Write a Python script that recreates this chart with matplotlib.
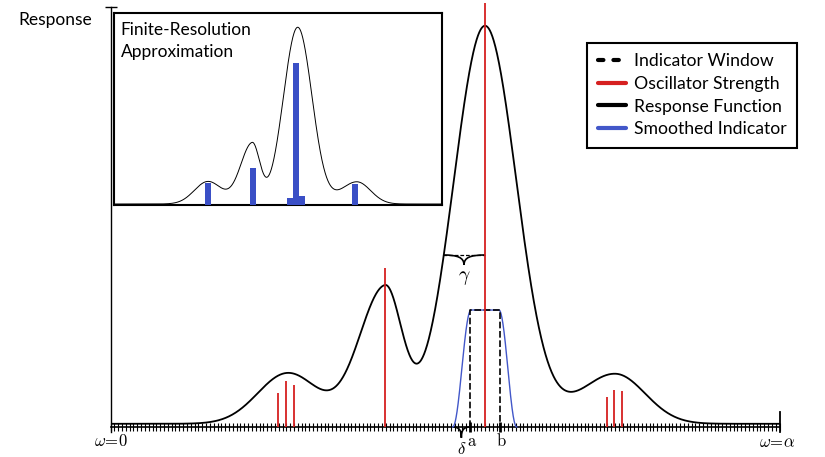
import numpy as np
import matplotlib
matplotlib.use('Agg')
import matplotlib.pyplot as plt
from matplotlib.lines import Line2D
from matplotlib.path import Path
import matplotlib.patches as patches

# ----------
# Data (omega in units of alpha, response in units of the main peak)

peak_pos = [0.2653, 0.4103, 0.5598, 0.7541]
peak_amp = [0.127, 0.340, 0.995, 0.125]
peak_width_left = [0.045, 0.039, 0.047, 0.052]
peak_width_right = [0.045, 0.025, 0.047, 0.045]
baseline = 0.008

osc_pos = [0.2508, 0.2623, 0.2738, 0.4103, 0.5598, 0.7417, 0.7531, 0.7646]
osc_strength = [0.086, 0.115, 0.105, 0.398, 1.06, 0.076, 0.092, 0.090]

window_a, window_b = 0.5374, 0.5822
window_height = 0.2925
rise_start, rise_end = 0.5115, 0.5389
fall_start, fall_end = 0.5807, 0.6072

gamma_left, gamma_right, gamma_level = 0.497, 0.5598, 0.43
delta_left, delta_right = 0.5115, 0.5374

bin_centers = [0.2652, 0.412, 0.5356, 0.5543, 0.574, 0.747]
bin_heights = [0.125, 0.213, 0.042, 0.800, 0.055, 0.119]
bin_width = 0.0195
n_ticks = 175

legend_labels = ['Indicator Window', 'Oscillator Strength',
                 'Response Function', 'Smoothed Indicator']

# ----------

red = '#d62020'
blue = '#4257c9'
bar_blue = '#3a4fc6'

plt.rcParams['font.family'] = ['Lato', 'DejaVu Sans']
plt.rcParams['mathtext.fontset'] = 'cm'


def response(w):
    r = np.full_like(w, baseline)
    for p, a, sl, sr in zip(peak_pos, peak_amp, peak_width_left, peak_width_right):
        s = np.where(w < p, sl, sr)
        r += a * np.exp(-0.5 * ((w - p) / s) ** 2)
    return r


def brace(ax, x0, x1, y, depth, lw=1.2):
    # curly brace pointing down, tip at the middle
    xm = 0.5 * (x0 + x1)
    w = x1 - x0
    verts = [(x0, y), (x0 + 0.35 * w, y), (xm, y - 0.25 * depth), (xm, y - depth),
             (x1, y), (x1 - 0.35 * w, y), (xm, y - 0.25 * depth), (xm, y - depth)]
    codes = [Path.MOVETO, Path.CURVE4, Path.CURVE4, Path.CURVE4] * 2
    ax.add_patch(patches.PathPatch(Path(verts, codes), fc='none', ec='k',
                                   lw=lw, clip_on=False))


fig = plt.figure(figsize=(8.25, 4.57), dpi=100)

# Main axes
ax = fig.add_axes([110.5 / 825, 25 / 457, 669 / 825, 425 / 457])
ax.set_xlim(0, 1)
ax.set_ylim(-0.0125, 1.05)
ax.spines['top'].set_visible(False)
ax.spines['right'].set_visible(False)
ax.spines['bottom'].set_position(('data', 0))
ax.spines['left'].set_linewidth(1.0)
ax.spines['bottom'].set_linewidth(1.2)
ax.set_xticks(np.linspace(0, 1, n_ticks + 1))
ax.set_xticklabels([])
ax.tick_params(axis='x', direction='inout', length=6, width=0.8)
ax.set_yticks([1.05])
ax.set_yticklabels([])
ax.tick_params(axis='y', direction='inout', length=8, width=1.0)

omega = np.linspace(0, 1, 2000)
ax.plot(omega, response(omega), color='k', lw=1.3, zorder=3)

# oscillator strengths
ax.vlines(osc_pos, 0, osc_strength, color=red, lw=1.3, zorder=4, clip_on=False)

# indicator window
ax.plot([window_a, window_a, window_b, window_b],
        [0, window_height, window_height, 0], color='k', lw=1.2,
        dashes=(4, 1.6), zorder=3)
ax.vlines([window_a, window_b], -0.012, 0.012, color='k', lw=2, clip_on=False)

# smoothed indicator
w = np.linspace(rise_start, fall_end, 400)
t_up = np.clip((w - rise_start) / (rise_end - rise_start), 0, 1)
t_dn = np.clip((fall_end - w) / (fall_end - fall_start), 0, 1)
smooth = window_height * 0.5 * (1 - np.cos(np.pi * t_up)) * 0.5 * (1 - np.cos(np.pi * t_dn))
ax.plot(w, smooth, color=blue, lw=1.0, zorder=2.8)

# gamma and delta annotations
ax.plot([gamma_left, gamma_right], [gamma_level, gamma_level], color='k',
        lw=0.9, dashes=(3, 1.5))
brace(ax, gamma_left, gamma_right, gamma_level, 0.025)
ax.text(0.5 * (gamma_left + gamma_right), gamma_level - 0.058, r'$\gamma$',
        ha='center', va='center', fontsize=14)
brace(ax, delta_left, delta_right, 0, 0.027)
ax.text(0.5 * (delta_left + delta_right), -0.054, r'$\delta$',
        ha='center', va='center', fontsize=12)
ax.text(window_a + 0.003, -0.035, r'$\mathrm{a}$', ha='center', va='center', fontsize=12)
ax.text(window_b + 0.0015, -0.035, r'$\mathrm{b}$', ha='center', va='center', fontsize=12)

# axis ends and labels
ax.plot([1, 1], [-0.012, 0.038], color='k', lw=1.3, clip_on=False)
ax.text(0, -0.034, r'$\omega\!=\!0$', ha='center', va='center', fontsize=12)
ax.text(0.996, -0.037, r'$\omega\!=\!\alpha$', ha='center', va='center', fontsize=12)
fig.text(18 / 825, 1 - 20 / 457, 'Response', ha='left', va='center', fontsize=12.5)

# legend
handles = [Line2D([], [], color='k', lw=3, dashes=(1.3, 2.4), dash_capstyle='round'),
           Line2D([], [], color=red, lw=3, solid_capstyle='round'),
           Line2D([], [], color='k', lw=3, solid_capstyle='round'),
           Line2D([], [], color=blue, lw=3, solid_capstyle='round')]
leg = ax.legend(handles, legend_labels, loc='upper left',
                bbox_to_anchor=(587.3 / 825, 1 - 42.7 / 457),
                bbox_transform=fig.transFigure, borderaxespad=0, fontsize=12.7,
                fancybox=False, framealpha=1, edgecolor='k', borderpad=0.6,
                handlelength=1.6, handletextpad=0.45, labelspacing=0.375)
leg.get_frame().set_linewidth(1.5)

# inset: finite-resolution approximation
ins = fig.add_axes([114 / 825, 1 - 205 / 457, 328 / 825, 192.3 / 457])
ins.set_xlim(-0.0436, 1.0337)
ins.set_ylim(0.0024, 1.085)
ins.set_xticks([])
ins.set_yticks([])
for s in ins.spines.values():
    s.set_linewidth(1.5)
omega_in = np.linspace(-0.05, 1.05, 2000)
ins.plot(omega_in, response(omega_in), color='k', lw=0.7)
ins.bar(bin_centers, bin_heights, width=bin_width, color=bar_blue, zorder=3)
ins.text(0.02, 0.852, 'Finite-Resolution\nApproximation', transform=ins.transAxes,
         ha='left', va='center', fontsize=12.5, linespacing=1.45)

plt.savefig('out.png', dpi=100)
